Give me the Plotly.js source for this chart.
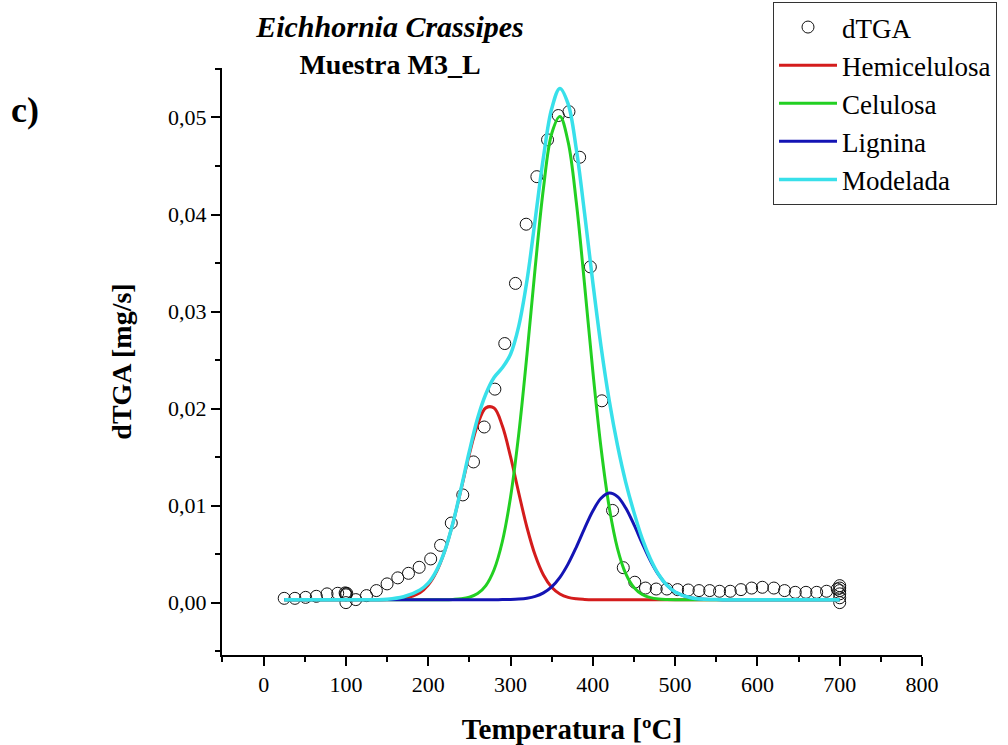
<!DOCTYPE html>
<html>
<head>
<meta charset="utf-8">
<script src="https://cdn.plot.ly/plotly-3.0.1.min.js"></script>
<style>
  html, body { margin: 0; padding: 0; background: #ffffff; }
  #chart { width: 1008px; height: 745px; }
</style>
</head>
<body>
<div id="chart"></div>
<script>
// Measured dTGA points (temperature in ºC, dTGA in mg/s)
const tempPoints = [25, 38, 51, 64, 77, 90, 99, 100, 100, 101, 100, 112, 125, 137, 150, 163, 176, 189,
  203, 215, 228, 242, 255, 268, 281, 293, 306, 319, 332, 345, 358, 371, 384, 397, 411, 424, 437, 451, 464,
  477, 490, 503, 516, 529, 542, 554, 567, 580, 593, 606, 620, 633, 646, 659, 672, 684, 697,
  700, 700, 700, 700, 700, 700];
const dtgaPoints = [0.00044, 0.00044, 0.00054, 0.00065, 0.0009, 0.00096, 0.001, 0.0009, 0.0008, 0.00095, 0.0, 0.00031,
  0.00072, 0.00124, 0.00193, 0.00255, 0.00302, 0.00364,
  0.0045, 0.0059, 0.0082, 0.0111, 0.0145, 0.0181, 0.022, 0.0267, 0.0329, 0.039, 0.0439, 0.0477, 0.0502, 0.0506,
  0.0459, 0.0346, 0.0208, 0.0095, 0.0036, 0.0021, 0.0015,
  0.0014, 0.0014, 0.00134, 0.0013, 0.00124, 0.00124, 0.00117, 0.00117, 0.00134, 0.0015, 0.00158, 0.0015, 0.00124, 0.00106,
  0.00106, 0.00106, 0.00117, 0.0014,
  0.00175, 0.0015, 0.00124, 0.0009, 0.0005, 0.0];

// Temperatures at which the deconvolution curves were read
const tempCurve = [25, 100, 150, 170, 190, 200, 210, 220, 230, 240, 250, 260, 270, 280, 290, 300, 310, 320, 330,
  340, 350, 360, 370, 380, 390, 400, 410, 420, 430, 440, 450, 460, 470, 480, 490, 500, 520, 550, 600, 700];

const hemicelulosa = [0.0003, 0.0003, 0.00032, 0.00043, 0.00103, 0.00181, 0.00317, 0.00529, 0.00819, 0.0117,
  0.01531, 0.01834, 0.02007, 0.02006, 0.01822, 0.01504, 0.0113, 0.00774, 0.00487, 0.00284, 0.00158, 0.00089,
  0.00054, 0.00039, 0.00033, 0.0003, 0.0003, 0.0003, 0.0003, 0.0003, 0.0003, 0.0003, 0.0003, 0.0003, 0.0003,
  0.0003, 0.0003, 0.0003, 0.0003, 0.0003];

const celulosa = [0.0003, 0.0003, 0.0003, 0.0003, 0.0003, 0.0003, 0.0003, 0.0003, 0.00033, 0.00039, 0.00055,
  0.00093, 0.00176, 0.00339, 0.00627, 0.01086, 0.01739, 0.02559, 0.03454, 0.0427, 0.04833, 0.0501, 0.04748,
  0.04121, 0.03275, 0.02385, 0.01593, 0.00979, 0.00557, 0.00298, 0.00155, 0.00083, 0.00051, 0.00037, 0.00032,
  0.0003, 0.0003, 0.0003, 0.0003, 0.0003];

const lignina = [0.0003, 0.0003, 0.0003, 0.0003, 0.0003, 0.0003, 0.0003, 0.0003, 0.0003, 0.0003, 0.0003, 0.0003,
  0.0003, 0.0003, 0.00031, 0.00032, 0.00036, 0.00045, 0.00064, 0.001, 0.00162, 0.0026, 0.00399, 0.00573, 0.00765,
  0.00944, 0.01075, 0.0113, 0.01093, 0.00975, 0.00803, 0.00611, 0.00431, 0.00285, 0.00179, 0.0011, 0.00048,
  0.00031, 0.0003, 0.0003];

const modelada = [0.0003, 0.0003, 0.00035, 0.0006, 0.0013, 0.002, 0.0033, 0.0053, 0.0082, 0.0118, 0.0156, 0.019,
  0.0215, 0.0232, 0.0242, 0.0256, 0.0285, 0.0332, 0.0395, 0.0459, 0.0509, 0.053, 0.0514, 0.0467, 0.0401, 0.033,
  0.0264, 0.0208, 0.0162, 0.0124, 0.0093, 0.0066, 0.0045, 0.0029, 0.0018, 0.0011, 0.00048, 0.00031, 0.0003, 0.0003];

const seriesNames = ['dTGA', 'Hemicelulosa', 'Celulosa', 'Lignina', 'Modelada'];
const titleLine1 = 'Eichhornia Crassipes';
const titleLine2 = 'Muestra M3_L';
const xTitle = 'Temperatura [ºC]';
const yTitle = 'dTGA [mg/s]';
const panelLabel = 'c)';

const FONT = '"Liberation Serif", "Times New Roman", serif';

const traces = [
  {
    x: tempPoints, y: dtgaPoints, name: seriesNames[0], type: 'scatter', mode: 'markers',
    marker: { symbol: 'circle-open', size: 12, color: '#111111', line: { width: 1, color: '#111111' } }
  },
  {
    x: tempCurve, y: hemicelulosa, name: seriesNames[1], type: 'scatter', mode: 'lines',
    line: { color: '#d41c1c', width: 3, shape: 'spline' }
  },
  {
    x: tempCurve, y: celulosa, name: seriesNames[2], type: 'scatter', mode: 'lines',
    line: { color: '#22d022', width: 3, shape: 'spline' }
  },
  {
    x: tempCurve, y: lignina, name: seriesNames[3], type: 'scatter', mode: 'lines',
    line: { color: '#1414b4', width: 3, shape: 'spline' }
  },
  {
    x: tempCurve, y: modelada, name: seriesNames[4], type: 'scatter', mode: 'lines',
    line: { color: '#38e0ea', width: 3.5, shape: 'spline' }
  }
];

const axisCommon = {
  showline: true, linecolor: '#000000', linewidth: 2,
  ticks: 'outside', ticklen: 9, tickwidth: 2, tickcolor: '#000000',
  showgrid: false, zeroline: false, mirror: false, automargin: false,
  tickfont: { family: FONT, size: 22, color: '#000000' }
};

const layout = {
  width: 1008, height: 745,
  paper_bgcolor: '#ffffff', plot_bgcolor: '#ffffff',
  separators: ',.',
  margin: { l: 222, r: 86, t: 68, b: 90, pad: 0, autoexpand: false },
  font: { family: FONT, color: '#000000' },
  title: {
    text: '<span style="font-size:30px"><b><i>' + titleLine1 + '</i></b></span><br><span style="font-size:28px"><b>' + titleLine2 + '</b></span>',
    font: { family: FONT, size: 28, color: '#000000' },
    xref: 'paper', x: 0.24, xanchor: 'center',
    yref: 'container', y: 0.95, yanchor: 'top'
  },
  xaxis: Object.assign({}, axisCommon, {
    range: [-50.6, 800], tick0: 0, dtick: 100,
    minor: { dtick: 50, ticks: 'outside', ticklen: 5, tickwidth: 2, tickcolor: '#000000' },
    title: { text: '<b>' + xTitle + '</b>', font: { family: FONT, size: 29, color: '#000000' }, standoff: 22 }
  }),
  yaxis: Object.assign({}, axisCommon, {
    range: [-0.0054, 0.0551], tick0: 0, dtick: 0.01, tickformat: '.2f',
    minor: { dtick: 0.005, ticks: 'outside', ticklen: 5, tickwidth: 2, tickcolor: '#000000' },
    title: { text: '<b>' + yTitle + '</b>', font: { family: FONT, size: 28, color: '#000000' }, standoff: 28 }
  }),
  showlegend: true,
  legend: {
    xref: 'container', yref: 'container',
    x: 773 / 1008, xanchor: 'left', y: 1 - 2 / 745, yanchor: 'top',
    bgcolor: '#ffffff', bordercolor: '#333333', borderwidth: 1,
    font: { family: FONT, size: 27, color: '#000000' },
    itemwidth: 58, tracegroupgap: 0
  },
  annotations: [
    {
      text: '<b>' + panelLabel + '</b>', xref: 'paper', yref: 'paper',
      x: (25 - 222) / 700, y: (655 - 110) / 587, xanchor: 'center', yanchor: 'middle',
      showarrow: false, font: { family: FONT, size: 36, color: '#000000' }
    }
  ]
};

Plotly.newPlot('chart', traces, layout, { staticPlot: true, displayModeBar: false });
</script>
</body>
</html>
